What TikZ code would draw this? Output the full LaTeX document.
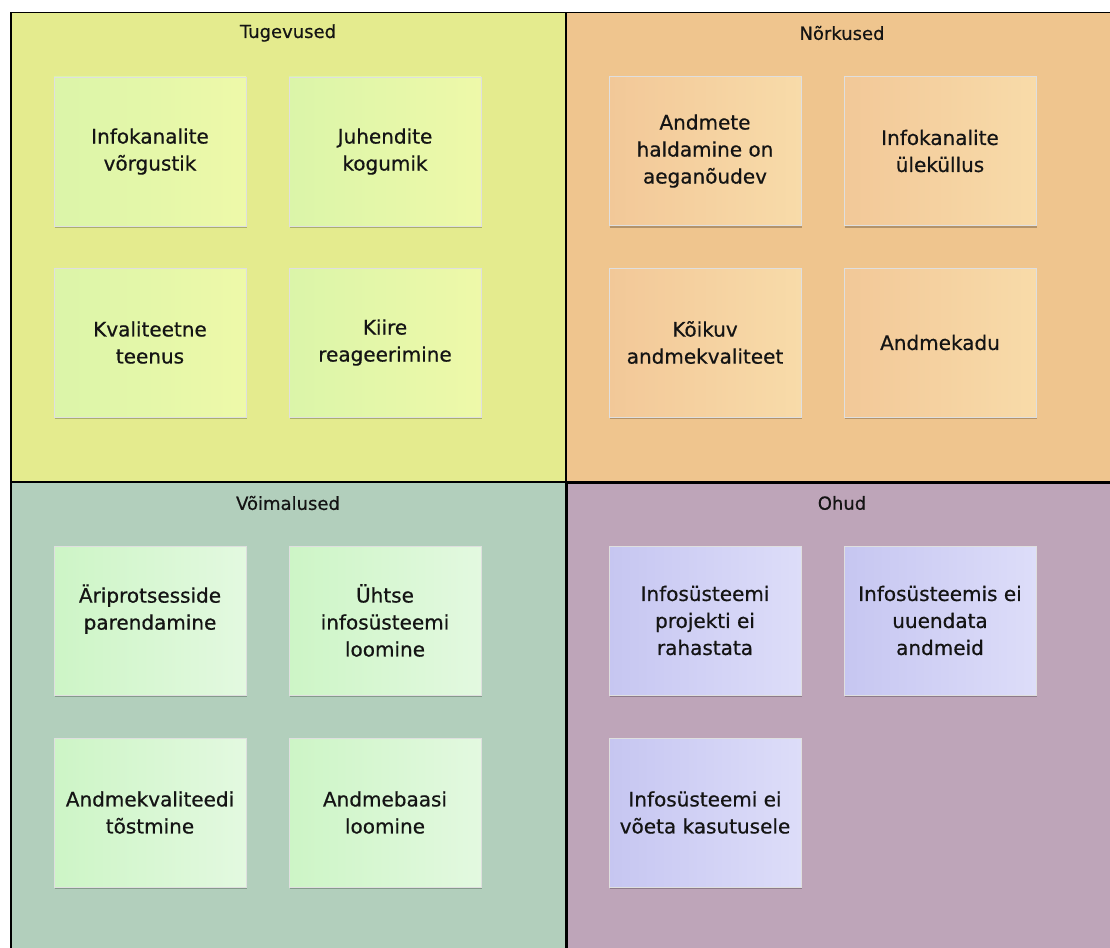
\documentclass[tikz,border=0pt]{standalone}
\usepackage{fontspec}
\setmainfont{DejaVu Sans}[RawFeature={embolden=0.6}]
\usepackage{tikz}
\usetikzlibrary{
  positioning,
  shadows
}
\usepackage{xcolor}
\definecolor{tugbg}{HTML}{E4EB8E}
\definecolor{norbg}{HTML}{EFC58E}
\definecolor{voibg}{HTML}{B2CFBC}
\definecolor{ohubg}{HTML}{BEA5B9}
\definecolor{tugL}{HTML}{DBF5A9}
\definecolor{tugR}{HTML}{EEF9A9}
\definecolor{norL}{HTML}{F2C898}
\definecolor{norR}{HTML}{F8DBA9}
\definecolor{voiL}{HTML}{CDF5C6}
\definecolor{voiR}{HTML}{E3F9E0}
\definecolor{ohuL}{HTML}{C6C6F1}
\definecolor{ohuR}{HTML}{DDDDF9}

\begin{document}
\begin{tikzpicture}[
  x=1pt, y=-1pt,
  quad/.style={draw=black, line width=1.5pt, fill=#1, anchor=north west,
               minimum width=555pt, inner sep=0pt},
  title/.style={font=\fontsize{18}{22}\selectfont, text=black!92},
  card/.style={draw=white!75!gray, line width=0.6pt, left color=#1L, right color=#1R,
               minimum width=192pt, minimum height=149pt, align=center, inner sep=0pt,
               font=\fontsize{20}{27}\selectfont, text=black!92,
               drop shadow={shadow xshift=1pt, shadow yshift=-2pt, opacity=0.25, fill=black}}
]
  \useasboundingbox (0,0) rectangle (1110,947);

  % Quadrants
  \node[quad=tugbg, minimum height=469pt] (tug) at (10,12) {};
  \node[quad=norbg, minimum height=469pt] (nor) at (565,12) {};
  \node[quad=voibg, minimum height=479pt] (voi) at (10,481) {};
  \node[quad=ohubg, minimum height=479pt, line width=3pt] (ohu) at (565,481) {};

  % Titles
  \node[title] (tugtitle) at (288,33) {Tugevused};
  \node[title] (nortitle) at (842,33) {Nõrkused};
  \node[title] (voititle) at (288,503) {Võimalused};
  \node[title] (ohutitle) at (842,503) {Ohud};

  % Tugevused
  \node[card=tug] (t1) at (150,151.5) {Infokanalite\\võrgustik};
  \node[card=tug] (t2) at (385,151.5) {Juhendite\\kogumik};
  \node[card=tug] (t3) at (150,342.5) {Kvaliteetne\\teenus};
  \node[card=tug] (t4) at (385,342.5) {Kiire\\reageerimine};

  % Nõrkused
  \node[card=nor] (n1) at (705,151) {Andmete\\haldamine on\\aeganõudev};
  \node[card=nor] (n2) at (940,151) {Infokanalite\\üleküllus};
  \node[card=nor] (n3) at (705,342.5) {Kõikuv\\andmekvaliteet};
  \node[card=nor] (n4) at (940,342.5) {Andmekadu};

  % Võimalused
  \node[card=voi] (v1) at (150,620.5) {Äriprotsesside\\parendamine\\~};
  \node[card=voi] (v2) at (385,620.5) {Ühtse\\infosüsteemi\\loomine};
  \node[card=voi] (v3) at (150,812.5) {Andmekvaliteedi\\tõstmine};
  \node[card=voi] (v4) at (385,812.5) {Andmebaasi\\loomine};

  % Ohud
  \node[card=ohu] (o1) at (705,620.5) {Infosüsteemi\\projekti ei\\rahastata};
  \node[card=ohu] (o2) at (940,620.5) {Infosüsteemis ei\\uuendata\\andmeid};
  \node[card=ohu] (o3) at (705,812.5) {Infosüsteemi ei\\võeta kasutusele};
\end{tikzpicture}
\end{document}
